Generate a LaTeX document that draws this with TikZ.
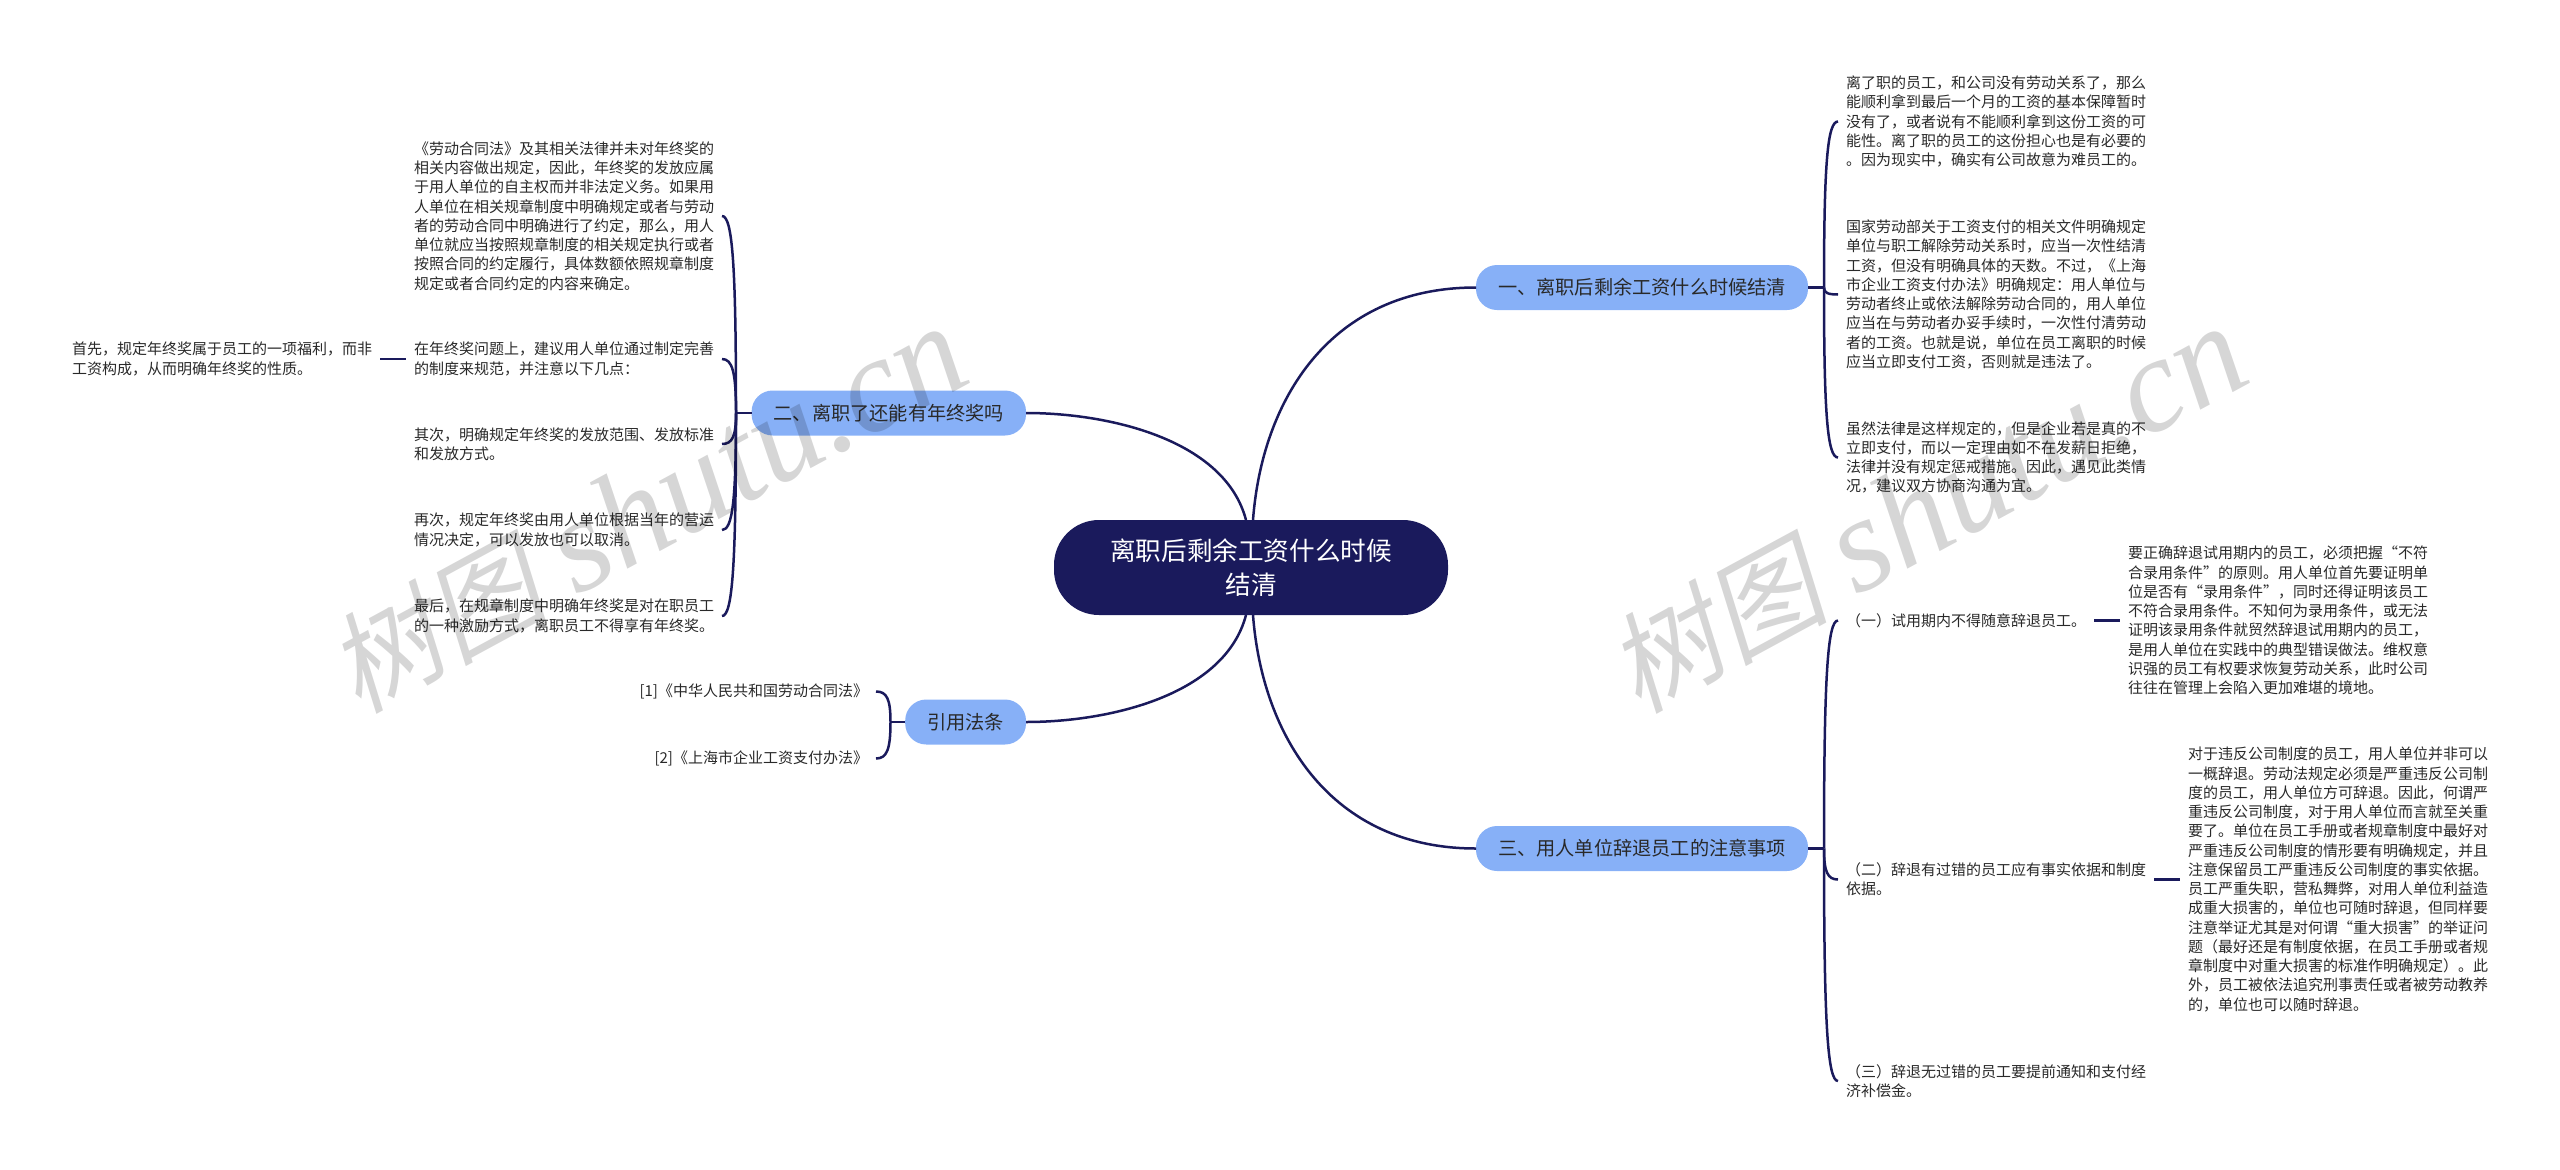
\documentclass[tikz,border=0pt]{standalone}
\usepackage{fontspec}
\usepackage{xcolor}
\setmainfont{Noto Sans CJK SC}
\newfontfamily\markcjk[FakeSlant=0.2]{Noto Sans CJK SC}
\newfontfamily\marklatin{Liberation Serif}
\definecolor{rootblue}{HTML}{1A1A5C}
\definecolor{branchblue}{HTML}{87B0F7}
\definecolor{leafgray}{HTML}{292929}
\usetikzlibrary{calc}

\begin{document}
\begin{tikzpicture}[x=1pt,y=-1pt,
			rootnode/.style={fill=rootblue,text=white,rounded corners=45pt,minimum width=394pt,minimum height=95pt,
				align=center,inner sep=0pt,outer sep=0pt,font=\fontsize{25.6}{34}\selectfont},
			branchnode/.style={fill=branchblue,text=leafgray,rounded corners=21pt,minimum height=45pt,
				inner xsep=22pt,inner ysep=0pt,outer sep=0pt,text height=15pt,text depth=.4pt,font=\fontsize{19.2}{24}\selectfont},
			leafnode/.style={text=leafgray,align=left,inner xsep=8pt,inner ysep=0pt,outer sep=0pt,yshift=-1.5pt,
				font=\fontsize{15}{19.25}\selectfont},
			linkline/.style={draw=rootblue,line width=2.5pt},
			bracket/.style={to path={.. controls ($(\tikztostart)!.75!(\tikztostart |- \tikztotarget)$)
				and ($(\tikztotarget)!.75!(\tikztostart |- \tikztotarget)$) .. (\tikztotarget)}},
			marknode/.style={text=black,text opacity=.16,rotate=28.5,inner sep=0pt}]
		\useasboundingbox (0,0) rectangle (2560,1170);
		\node[rootnode] (root) at (1251,567.5) {离职后剩余工资什么时候\\结清};
		\node[branchnode,anchor=west] (branchA) at (1476,287.5) {一、离职后剩余工资什么时候结清};
		\node[branchnode,anchor=east] (branchB) at (1026,413) {二、离职了还能有年终奖吗};
		\node[branchnode,anchor=east] (branchD) at (1026,722) {引用法条};
		\node[branchnode,anchor=west] (branchC) at (1476,848.5) {三、用人单位辞退员工的注意事项};
		\coordinate (hubA) at (1824,287.5);
		\coordinate (hubB) at (736,413);
		\coordinate (hubD) at (890.5,722);
		\coordinate (hubC) at (1824,848.5);
		\node[leafnode,anchor=west] (leafAa) at (1838,120) {离了职的员工，和公司没有劳动关系了，那么\\能顺利拿到最后一个月的工资的基本保障暂时\\没有了，或者说有不能顺利拿到这份工资的可\\能性。离了职的员工的这份担心也是有必要的\\。因为现实中，确实有公司故意为难员工的。};
		\node[leafnode,anchor=west] (leafAb) at (1838,293) {国家劳动部关于工资支付的相关文件明确规定\\单位与职工解除劳动关系时，应当一次性结清\\工资，但没有明确具体的天数。不过，《上海\\市企业工资支付办法》明确规定：用人单位与\\劳动者终止或依法解除劳动合同的，用人单位\\应当在与劳动者办妥手续时，一次性付清劳动\\者的工资。也就是说，单位在员工离职的时候\\应当立即支付工资，否则就是违法了。};
		\node[leafnode,anchor=west] (leafAc) at (1838,456) {虽然法律是这样规定的，但是企业若是真的不\\立即支付，而以一定理由如不在发薪日拒绝，\\法律并没有规定惩戒措施。因此，遇见此类情\\况，建议双方协商沟通为宜。};
		\node[leafnode,anchor=east] (leafBa) at (722,214.5) {《劳动合同法》及其相关法律并未对年终奖的\\相关内容做出规定，因此，年终奖的发放应属\\于用人单位的自主权而并非法定义务。如果用\\人单位在相关规章制度中明确规定或者与劳动\\者的劳动合同中明确进行了约定，那么，用人\\单位就应当按照规章制度的相关规定执行或者\\按照合同的约定履行，具体数额依照规章制度\\规定或者合同约定的内容来确定。};
		\node[leafnode,anchor=east] (leafBb) at (722,357.5) {在年终奖问题上，建议用人单位通过制定完善\\的制度来规范，并注意以下几点：};
		\node[leafnode,anchor=east] (leafBc) at (722,442.5) {其次，明确规定年终奖的发放范围、发放标准\\和发放方式。};
		\node[leafnode,anchor=east] (leafBd) at (722,528.5) {再次，规定年终奖由用人单位根据当年的营运\\情况决定，可以发放也可以取消。};
		\node[leafnode,anchor=east] (leafBe) at (722,614.5) {最后，在规章制度中明确年终奖是对在职员工\\的一种激励方式，离职员工不得享有年终奖。};
		\node[leafnode,anchor=east] (leafBf) at (380,357.5) {首先，规定年终奖属于员工的一项福利，而非\\工资构成，从而明确年终奖的性质。};
		\node[leafnode,anchor=east] (leafDa) at (876,690) {[1]《中华人民共和国劳动合同法》};
		\node[leafnode,anchor=east] (leafDb) at (876,757) {[2]《上海市企业工资支付办法》};
		\node[leafnode,anchor=west] (leafCa) at (1838,619) {（一）试用期内不得随意辞退员工。};
		\node[leafnode,anchor=west] (leafCb) at (1838,878) {（二）辞退有过错的员工应有事实依据和制度\\依据。};
		\node[leafnode,anchor=west] (leafCc) at (1838,1079.5) {（三）辞退无过错的员工要提前通知和支付经\\济补偿金。};
		\node[leafnode,anchor=west] (leafCd) at (2120,619) {要正确辞退试用期内的员工，必须把握“不符\\合录用条件”的原则。用人单位首先要证明单\\位是否有“录用条件”，同时还得证明该员工\\不符合录用条件。不知何为录用条件，或无法\\证明该录用条件就贸然辞退试用期内的员工，\\是用人单位在实践中的典型错误做法。维权意\\识强的员工有权要求恢复劳动关系，此时公司\\往往在管理上会陷入更加难堪的境地。};
		\node[leafnode,anchor=west] (leafCe) at (2180,878) {对于违反公司制度的员工，用人单位并非可以\\一概辞退。劳动法规定必须是严重违反公司制\\度的员工，用人单位方可辞退。因此，何谓严\\重违反公司制度，对于用人单位而言就至关重\\要了。单位在员工手册或者规章制度中最好对\\严重违反公司制度的情形要有明确规定，并且\\注意保留员工严重违反公司制度的事实依据。\\员工严重失职，营私舞弊，对用人单位利益造\\成重大损害的，单位也可随时辞退，但同样要\\注意举证尤其是对何谓“重大损害”的举证问\\题（最好还是有制度依据，在员工手册或者规\\章制度中对重大损害的标准作明确规定）。此\\外，员工被依法追究刑事责任或者被劳动教养\\的，单位也可以随时辞退。};
		\draw[linkline] ([xshift=2pt]root.north) .. controls (1262,400) and (1330,287.5) .. (branchA.west);
		\draw[linkline] ([xshift=-5pt]root.north) .. controls (1225,440) and (1110,413) .. (branchB.east);
		\draw[linkline] ([xshift=-5pt]root.south) .. controls (1225,695) and (1110,722) .. (branchD.east);
		\draw[linkline] ([xshift=2pt]root.south) .. controls (1262,735) and (1330,848.5) .. (branchC.west);
		\draw[linkline] (branchA.east) -- (hubA);
		\draw[linkline] (branchB.west) -- (hubB);
		\draw[linkline] (branchD.west) -- (hubD);
		\draw[linkline] (branchC.east) -- (hubC);
		\foreach \leaf in {leafAa,leafAb,leafAc}
			\draw[linkline] (hubA) to[bracket] (\leaf.west);
		\foreach \leaf in {leafBa,leafBb,leafBc,leafBd,leafBe}
			\draw[linkline] (hubB) to[bracket] (\leaf.east);
		\foreach \leaf in {leafDa,leafDb}
			\draw[linkline] (hubD) to[bracket] (\leaf.east);
		\foreach \leaf in {leafCa,leafCb,leafCc}
			\draw[linkline] (hubC) to[bracket] (\leaf.west);
		\draw[linkline] (leafBf.east) -- (leafBb.west);
		\draw[linkline] (leafCa.east) -- (leafCd.west);
		\draw[linkline] (leafCb.east) -- (leafCe.west);
		\node[marknode] (markA) at (647,510) {{\markcjk\fontsize{110}{110}\selectfont 树图}\hspace{28pt}{\marklatin\itshape\fontsize{135}{135}\selectfont shutu.cn}};
		\node[marknode] (markB) at (1927,510) {{\markcjk\fontsize{110}{110}\selectfont 树图}\hspace{28pt}{\marklatin\itshape\fontsize{135}{135}\selectfont shutu.cn}};
\end{tikzpicture}
\end{document}
